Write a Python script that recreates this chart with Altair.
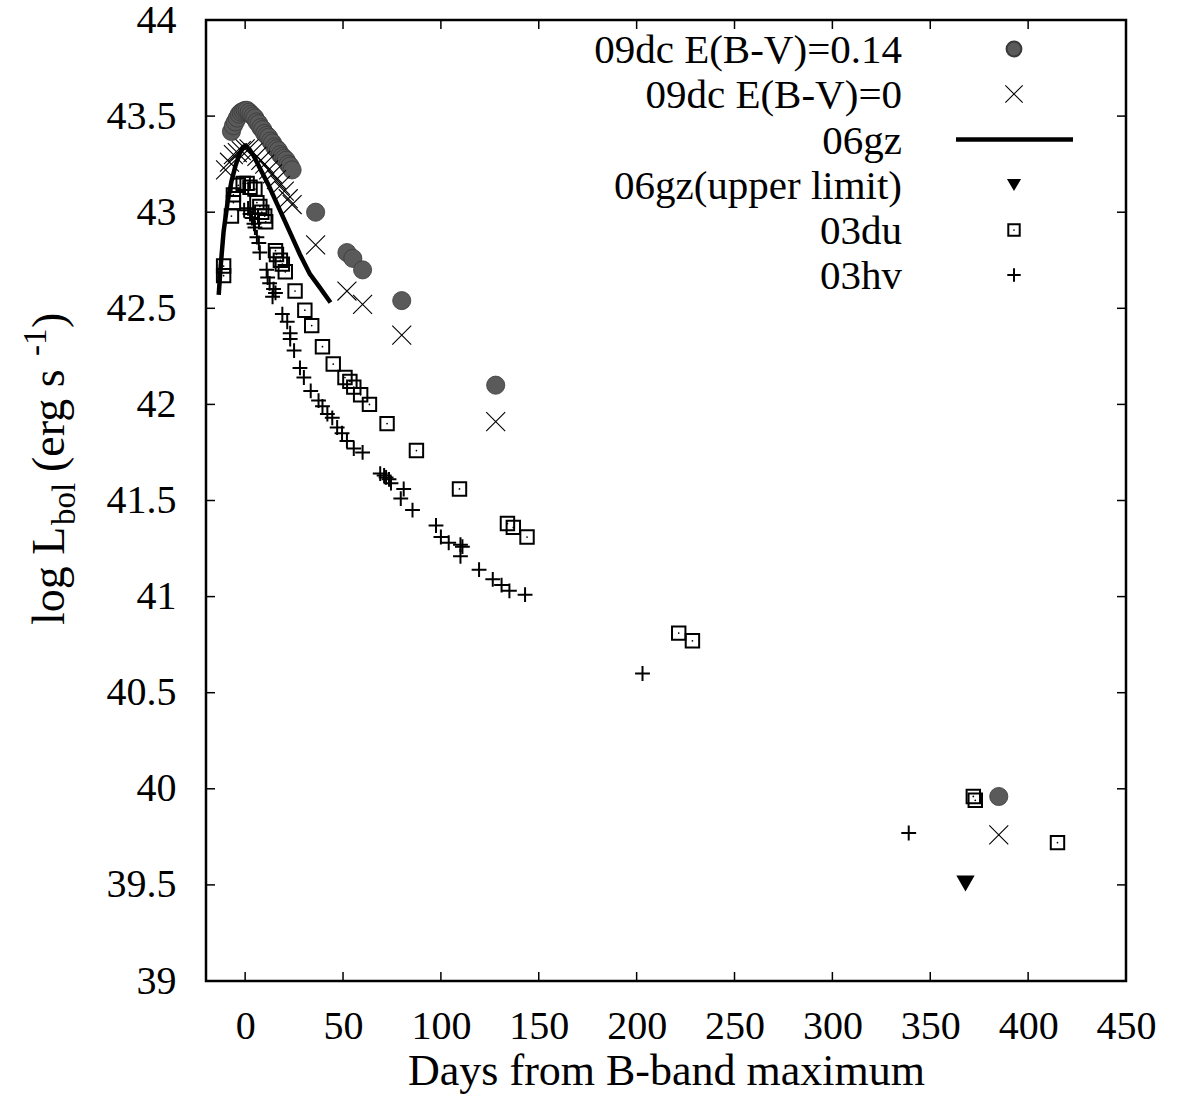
import altair as alt
import pandas as pd

# ---------------- data ----------------
dc14_days = [-7, -6, -5, -4, -3, -2, -1, 0, 1, 2, 3, 4, 5, 6, 7, 8, 9, 10, 11, 12, 13, 14, 15, 16,
             17, 18, 19, 20, 21, 22, 23, 24, 36, 52, 55, 60, 80, 128, 385]
dc14_lum = [43.42, 43.45, 43.47, 43.49, 43.51, 43.52, 43.525, 43.53, 43.53, 43.52, 43.51, 43.50,
            43.49, 43.47, 43.46, 43.44, 43.43, 43.41, 43.40, 43.39, 43.37, 43.36, 43.34, 43.33,
            43.32, 43.30, 43.29, 43.28, 43.27, 43.25, 43.24, 43.22, 43.00, 42.79, 42.76, 42.70,
            42.54, 42.10, 39.96]

dc0_days = [-10, -8, -6, -4, -2, 0, 2, 4, 6, 8, 10, 12, 14, 16, 18, 20, 22, 24, 36, 52, 60, 80, 128, 385]
dc0_lum = [43.22, 43.26, 43.30, 43.31, 43.32, 43.33, 43.33, 43.31, 43.29, 43.27, 43.25, 43.22,
           43.20, 43.17, 43.14, 43.11, 43.07, 43.04, 42.83, 42.59, 42.52, 42.36, 41.91, 39.76]

gz_days = [-13.5, -12.5, -11, -9, -7, -5, -3, -1, 0, 2, 4, 6, 8, 12, 16, 20, 24, 28, 33, 38, 43.6]
gz_lum = [42.57, 42.72, 42.90, 43.05, 43.16, 43.24, 43.30, 43.34, 43.345, 43.33, 43.30, 43.26,
          43.22, 43.14, 43.05, 42.96, 42.87, 42.78, 42.68, 42.61, 42.53]

gzul_days = [368]
gzul_lum = [39.51]

du_days = [-11, -11, -7, -6, -6, -3.5, -1, 1, 2.5, 5, 6, 7.5, 8.5, 10, 10.5, 15.5, 16, 18, 19, 20.5,
           25.5, 30.5, 34, 39.5, 45, 51, 53.5, 55.5, 59, 63.5, 72.5, 87.5, 109.5, 134, 137, 144,
           221.5, 228.5, 372, 373, 415]
du_lum = [42.72, 42.67, 42.98, 43.05, 43.09, 43.14, 43.15, 43.15, 43.13, 43.12, 43.05, 43.03, 43.00,
          42.98, 42.95, 42.80, 42.78, 42.75, 42.73, 42.69, 42.59, 42.49, 42.41, 42.30, 42.21, 42.14,
          42.12, 42.09, 42.05, 42.00, 41.90, 41.76, 41.56, 41.38, 41.36, 41.31, 40.81, 40.77,
          39.96, 39.94, 39.72]

hv_days = [-0.5, 1.5, 2.5, 3.5, 4.5, 5, 6, 7, 7.5, 11, 11.5, 12.5, 14, 14.5, 15.5, 19, 21.5, 23, 23,
           25, 28, 30, 33.5, 37.5, 39.5, 42, 44.5, 47, 49.5, 52, 55.5, 60, 69, 71, 72, 73.5, 74.5,
           79.5, 81, 85.5, 97.5, 100, 104, 110, 111, 110, 119.5, 126.5, 131, 135, 143, 203, 339]
hv_lum = [43.01, 43.02, 42.99, 42.97, 42.94, 42.92, 42.87, 42.84, 42.79, 42.70, 42.66, 42.63, 42.56,
          42.60, 42.58, 42.47, 42.43, 42.37, 42.34, 42.28, 42.19, 42.14, 42.07, 42.02, 41.99, 41.95,
          41.93, 41.88, 41.85, 41.81, 41.77, 41.75, 41.64, 41.63, 41.62, 41.61, 41.59, 41.51, 41.56,
          41.45, 41.37, 41.31, 41.28, 41.27, 41.26, 41.21, 41.14, 41.09, 41.06, 41.03, 41.01, 40.60,
          39.77]

x_ticks = [0, 50, 100, 150, 200, 250, 300, 350, 400, 450]
y_ticks = [39, 39.5, 40, 40.5, 41, 41.5, 42, 42.5, 43, 43.5, 44]

legend_labels = ["09dc E(B-V)=0.14", "09dc E(B-V)=0", "06gz", "06gz(upper limit)", "03du", "03hv"]

# ---------------- layout / style ----------------
W, H = 920, 961
FONT = "Liberation Serif"
X_PATH = "M-1,-1L1,1M1,-1L-1,1"
PLUS_PATH = "M-1,0L1,0M0,-1L0,1"
GRAY = "#5a5a5a"


def df(days, lum):
    return pd.DataFrame({"d": days, "L": lum})


xs = alt.Scale(domain=[-20, 450], nice=False, zero=False)
ys = alt.Scale(domain=[39, 44], nice=False, zero=False)

x_axis = alt.Axis(values=x_ticks, ticks=False, tickSize=0, domain=False, grid=False,
                  labelFont=FONT, labelFontSize=40, labelColor="black", labelPadding=25,
                  labelFlush=False, labelOverlap=False,
                  title="Days from B-band maximum", titleFont=FONT, titleFontSize=44,
                  titleFontWeight="normal", titleColor="black", titlePadding=3)
y_axis = alt.Axis(values=y_ticks, ticks=False, tickSize=0, domain=False, grid=False,
                  labelFont=FONT, labelFontSize=40, labelColor="black", labelPadding=30,
                  labelFlush=False, labelOverlap=False,
                  format="~g", title=None)

X = alt.X("d:Q", scale=xs, axis=x_axis)
Y = alt.Y("L:Q", scale=ys, axis=y_axis)

layers = []

# data series (plot order as in the reference)
layers.append(alt.Chart(df(dc14_days, dc14_lum)).mark_point(
    shape="circle", filled=True, fill=GRAY, stroke="#3a3a3a", strokeWidth=0.8, size=330, opacity=1
).encode(x=X, y=Y))
layers.append(alt.Chart(df(dc0_days, dc0_lum)).mark_point(
    shape=X_PATH, filled=False, stroke="black", strokeWidth=1.1, size=360, opacity=1
).encode(x=X, y=Y))
layers.append(alt.Chart(df(gz_days, gz_lum)).mark_line(
    color="black", strokeWidth=4.5
).encode(x=X, y=Y))
layers.append(alt.Chart(df(gzul_days, gzul_lum)).mark_point(
    shape="triangle-down", filled=True, fill="black", stroke="black", size=220, opacity=1
).encode(x=X, y=Y))
layers.append(alt.Chart(df(du_days, du_lum)).mark_point(
    shape="square", filled=False, stroke="black", strokeWidth=2, size=180, opacity=1
).encode(x=X, y=Y))
layers.append(alt.Chart(df(du_days, du_lum)).mark_point(
    shape="circle", filled=True, fill="black", size=3, opacity=1
).encode(x=X, y=Y))
layers.append(alt.Chart(df(hv_days, hv_lum)).mark_point(
    shape=PLUS_PATH, filled=False, stroke="black", strokeWidth=2, size=220, opacity=1
).encode(x=X, y=Y))

# inward ticks on all four sides
TK = 9
xt = pd.DataFrame({"d": x_ticks})
yt = pd.DataFrame({"L": y_ticks})
layers.append(alt.Chart(xt).mark_rule(color="black", strokeWidth=1.5).encode(
    x=X, y=alt.value(H), y2=alt.value(H - TK)))
layers.append(alt.Chart(xt).mark_rule(color="black", strokeWidth=1.5).encode(
    x=X, y=alt.value(0), y2=alt.value(TK)))
layers.append(alt.Chart(yt).mark_rule(color="black", strokeWidth=1.5).encode(
    y=Y, x=alt.value(0), x2=alt.value(TK)))
layers.append(alt.Chart(yt).mark_rule(color="black", strokeWidth=1.5).encode(
    y=Y, x=alt.value(W), x2=alt.value(W - TK)))

# legend (top right, labels right-aligned left of the symbols)
one = pd.DataFrame({"k": [0]})
LX_TEXT, LX_SYM = 696, 808
row_y = [29, 74, 119.5, 165, 210, 255]
for lab, ry in zip(legend_labels, row_y):
    layers.append(alt.Chart(one).mark_text(
        text=lab, align="right", baseline="middle", font=FONT, fontSize=41, color="black", dy=2
    ).encode(x=alt.value(LX_TEXT), y=alt.value(ry)))

layers.append(alt.Chart(one).mark_point(shape="circle", filled=True, fill=GRAY, stroke="#3a3a3a",
                                        size=220, opacity=1).encode(x=alt.value(LX_SYM), y=alt.value(row_y[0])))
layers.append(alt.Chart(one).mark_point(shape=X_PATH, filled=False, stroke="black", strokeWidth=1.1,
                                        size=300, opacity=1).encode(x=alt.value(LX_SYM), y=alt.value(row_y[1])))
layers.append(alt.Chart(one).mark_rule(color="black", strokeWidth=4.5).encode(
    x=alt.value(LX_SYM - 58), x2=alt.value(LX_SYM + 59), y=alt.value(row_y[2])))
layers.append(alt.Chart(one).mark_point(shape="triangle-down", filled=True, fill="black", size=200,
                                        opacity=1).encode(x=alt.value(LX_SYM), y=alt.value(row_y[3])))
layers.append(alt.Chart(one).mark_point(shape="square", filled=False, stroke="black", strokeWidth=2,
                                        size=130, opacity=1).encode(x=alt.value(LX_SYM), y=alt.value(row_y[4])))
layers.append(alt.Chart(one).mark_point(shape="circle", filled=True, fill="black", size=3,
                                        opacity=1).encode(x=alt.value(LX_SYM), y=alt.value(row_y[4])))
layers.append(alt.Chart(one).mark_point(shape=PLUS_PATH, filled=False, stroke="black", strokeWidth=2,
                                        size=180, opacity=1).encode(x=alt.value(LX_SYM), y=alt.value(row_y[5])))

# y-axis title with subscript / superscript: log L_bol (erg s^-1)
title_parts = [
    ("log L", 46, -142, 605),
    ("bol", 33, -131, 505),
    ("(erg s", 46, -142, 452),
    ("-1", 33, -160, 336),
    (")", 46, -142, 308),
]
for txt, fs, tx, ty in title_parts:
    layers.append(alt.Chart(one).mark_text(
        text=txt, angle=270, align="left", baseline="alphabetic", font=FONT, fontSize=fs, color="black"
    ).encode(x=alt.value(tx), y=alt.value(ty)))

chart = alt.layer(*layers).properties(
    width=W, height=H,
    autosize=alt.AutoSizeParams(type="none"),
    padding={"left": 206, "top": 20, "right": 52, "bottom": 114},
    background="white",
).configure_view(stroke="black", strokeWidth=2.5)

chart.save("out.html", embed_options={"renderer": "svg", "actions": False})
